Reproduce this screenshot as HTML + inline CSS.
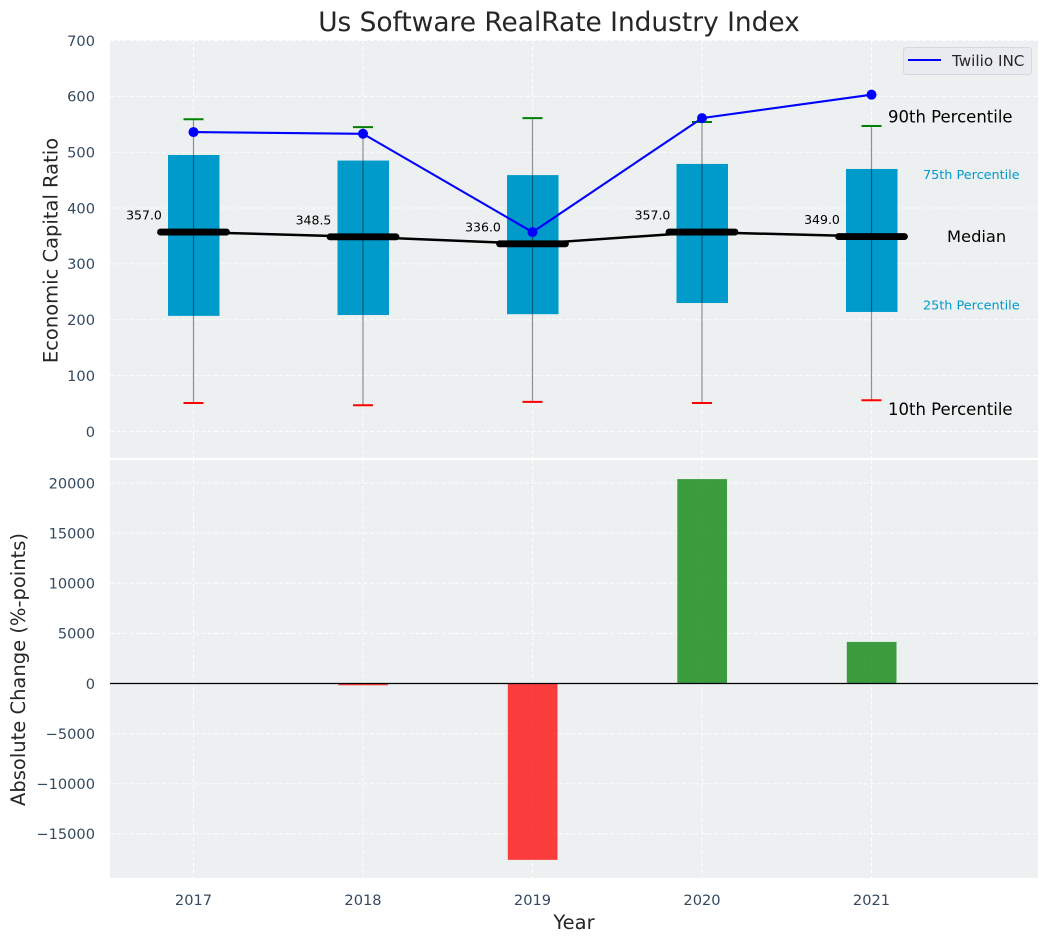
<!DOCTYPE html>
<html>
<head>
<meta charset="utf-8">
<title>Us Software RealRate Industry Index</title>
<style>
html,body{margin:0;padding:0;background:#fff;}
svg{display:block;font-family:"DejaVu Sans","Liberation Sans",sans-serif;}
</style>
</head>
<body>
<svg id="chart" xmlns="http://www.w3.org/2000/svg" width="1048" height="942" viewBox="0 0 1048 942">
  <rect x="0" y="0" width="1048" height="942" fill="#ffffff"/>
  <rect x="110" y="40" width="928" height="418" fill="#ecf0f1"/>
  <rect x="110" y="460" width="928" height="418" fill="#ecf0f1"/>
  <g id="grid"></g>
  <g id="marks-top"></g>
  <g id="marks-bottom"></g>
  <g id="ticks"></g>
  <g id="notes"></g>
  <text x="559" y="31" text-anchor="middle" font-size="26.4" fill="#262626">Us Software RealRate Industry Index</text>
  <text transform="translate(57.5,250.5) rotate(-90)" text-anchor="middle" font-size="19.5" fill="#262626">Economic Capital Ratio</text>
  <text transform="translate(25,669.5) rotate(-90)" text-anchor="middle" font-size="19.5" fill="#262626">Absolute Change (%-points)</text>
  <text x="574" y="929" text-anchor="middle" font-size="19.5" fill="#262626">Year</text>
  <g>
    <rect x="903.5" y="47.5" width="128" height="27" rx="3" fill="#e9ebf1" stroke="#d6d8dd" stroke-width="1"/>
    <line x1="908" y1="60" x2="941" y2="60" stroke="#0000ff" stroke-width="2"/>
    <text x="952" y="66" font-size="15.2" fill="#262626">Twilio INC</text>
  </g>
</svg>
<script>
const years = [2017, 2018, 2019, 2020, 2021];
const p10 = [51, 47, 53, 51, 56];
const p25 = [207, 208.5, 210, 230, 214];
const medians = [357, 348.5, 336, 357, 349];
const p75 = [495, 485, 459, 479, 470];
const p90 = [559, 545, 561, 554, 547];
const twilio = [536, 533, 357, 561, 603];
const absoluteChange = [0, -180, -17600, 20400, 4150];
const topTicks = [0, 100, 200, 300, 400, 500, 600, 700];
const bottomTicks = [-15000, -10000, -5000, 0, 5000, 10000, 15000, 20000];

const NS = 'http://www.w3.org/2000/svg';
const xScale = function (year) { return 193.5 + (year - 2017) * 169.5; };
const yTop = function (v) { return 431.5 - v * 0.5586; };
const yBottom = function (v) { return 683.5 - v * 0.01002; };

function make(parent, tag, attrs, text) {
  const el = document.createElementNS(NS, tag);
  for (const k in attrs) el.setAttribute(k, attrs[k]);
  if (text !== undefined) el.textContent = text;
  parent.appendChild(el);
  return el;
}

const grid = document.getElementById('grid');
const gridStyle = { stroke: '#ffffff', 'stroke-width': 1, 'stroke-dasharray': '4 2.5', 'stroke-opacity': 0.9 };
const ticks = document.getElementById('ticks');
const tickColor = '#34495e';

topTicks.forEach(function (t) {
  const y = yTop(t);
  const g = make(grid, 'line', Object.assign({ x1: 110, x2: 1038, y1: y, y2: y }, gridStyle));
  
  
  const l = make(ticks, 'text', { x: 95, y: y + 5.3, 'text-anchor': 'end', 'font-size': 14.6, fill: tickColor }, String(t));
  
  
});

bottomTicks.forEach(function (t) {
  const y = yBottom(t);
  const g = make(grid, 'line', Object.assign({ x1: 110, x2: 1038, y1: y, y2: y }, gridStyle));
  
  
  const label = String(t).replace('-', '\u2212');
  const l = make(ticks, 'text', { x: 95, y: y + 5.3, 'text-anchor': 'end', 'font-size': 14.6, fill: tickColor }, label);
  
  
});

years.forEach(function (yr) {
  const x = xScale(yr);
  const g1 = make(grid, 'line', Object.assign({ x1: x, x2: x, y1: 40, y2: 458 }, gridStyle));
  
  
  const g2 = make(grid, 'line', Object.assign({ x1: x, x2: x, y1: 460, y2: 878 }, gridStyle));
  
  
  const l = make(ticks, 'text', { x: x, y: 905, 'text-anchor': 'middle', 'font-size': 14.6, fill: tickColor }, String(yr));
  
  
});

const top_ = document.getElementById('marks-top');

years.forEach(function (yr, i) {
  const x = xScale(yr);
  const box = make(top_, 'rect', { x: x - 25.5, width: 51.5, y: yTop(p75[i]), height: yTop(p25[i]) - yTop(p75[i]), fill: '#009bcb' });
  
  
});

years.forEach(function (yr, i) {
  const x = xScale(yr);
  const stem = make(top_, 'line', { x1: x, x2: x, y1: yTop(p90[i]), y2: yTop(p10[i]), stroke: '#000000', 'stroke-opacity': 0.42, 'stroke-width': 1.2 });
  
  
  const capHi = make(top_, 'line', { x1: x - 10, x2: x + 10, y1: yTop(p90[i]), y2: yTop(p90[i]), stroke: '#008000', 'stroke-width': 2 });
  
  
  const capLo = make(top_, 'line', { x1: x - 10, x2: x + 10, y1: yTop(p10[i]), y2: yTop(p10[i]), stroke: '#ff0000', 'stroke-width': 2 });
  
  
});

const medianPts = years.map(function (yr, i) { return xScale(yr) + ',' + yTop(medians[i]); }).join(' ');
const medianLine = make(top_, 'polyline', { points: medianPts, fill: 'none', stroke: '#000000', 'stroke-width': 2.5 });



years.forEach(function (yr, i) {
  const x = xScale(yr);
  const y = yTop(medians[i]);
  const bar = make(top_, 'line', { x1: x - 33, x2: x + 33, y1: y, y2: y, stroke: '#000000', 'stroke-width': 6.8, 'stroke-linecap': 'round' });
  
  
  const l = make(top_, 'text', { x: x - 49.5, y: y - 12.5, 'text-anchor': 'middle', 'font-size': 12.5, fill: '#000000' }, medians[i].toFixed(1));
  
  
});

const twilioPts = years.map(function (yr, i) { return xScale(yr) + ',' + yTop(twilio[i]); }).join(' ');
const twilioLine = make(top_, 'polyline', { points: twilioPts, fill: 'none', stroke: '#0000ff', 'stroke-width': 2.1 });


years.forEach(function (yr, i) {
  const dot = make(top_, 'circle', { cx: xScale(yr), cy: yTop(twilio[i]), r: 5, fill: '#0000ff' });
  
  
});

const bottom_ = document.getElementById('marks-bottom');
years.forEach(function (yr, i) {
  const x = xScale(yr);
  const v = absoluteChange[i];
  const y0 = yBottom(0);
  const y1 = yBottom(v);
  const bar = make(bottom_, 'rect', { x: x - 24.7, width: 49.7, y: Math.min(y0, y1), height: Math.abs(y1 - y0), fill: v < 0 ? '#ff0000' : '#008000', 'fill-opacity': 0.75 });
  
  
});
const zero = make(bottom_, 'line', { x1: 110, x2: 1038, y1: yBottom(0), y2: yBottom(0), stroke: '#000000', 'stroke-width': 1.3 });



const notes = document.getElementById('notes');
const last = years.length - 1;
const n90 = make(notes, 'text', { x: 888, y: yTop(p90[last]) - 3.5, 'font-size': 16.5, fill: '#000000' }, '90th Percentile');


const n75 = make(notes, 'text', { x: 923, y: yTop(p75[last]) + 10, 'font-size': 12.8, fill: '#009bcb' }, '75th Percentile');


const nMed = make(notes, 'text', { x: 947, y: yTop(medians[last]) + 5.5, 'font-size': 16.3, fill: '#000000' }, 'Median');


const n25 = make(notes, 'text', { x: 923, y: yTop(p25[last]) - 2.5, 'font-size': 12.8, fill: '#009bcb' }, '25th Percentile');


const n10 = make(notes, 'text', { x: 888, y: yTop(p10[last]) + 15, 'font-size': 16.5, fill: '#000000' }, '10th Percentile');


</script>
</body>
</html>
